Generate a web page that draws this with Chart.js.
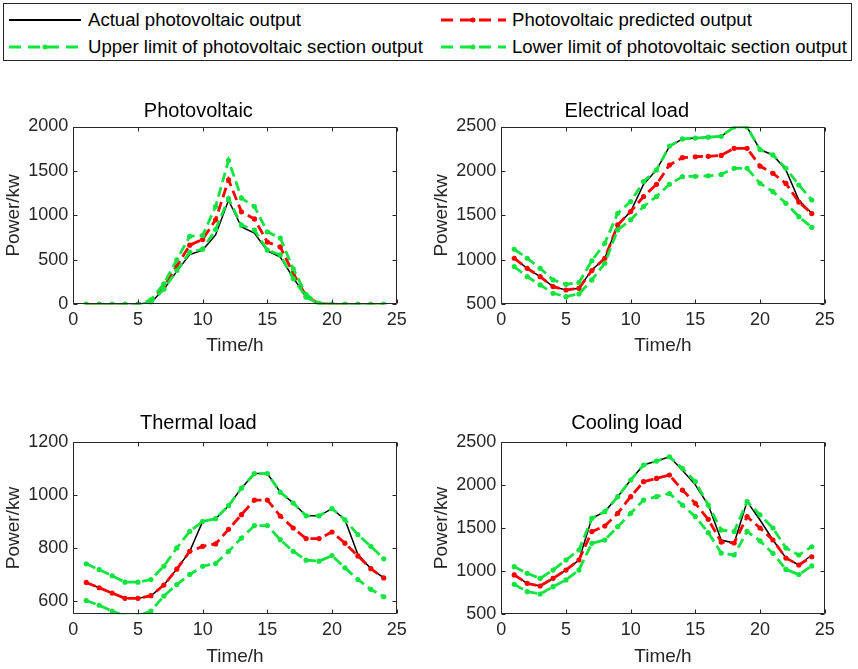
<!DOCTYPE html>
<html>
<head>
<meta charset="utf-8">
<script src="https://cdn.jsdelivr.net/npm/chart.js@4.4.0/dist/chart.umd.min.js"></script>
<style>
  html, body { margin: 0; padding: 0; background: #fff; }
  body { width: 858px; height: 669px; position: relative; overflow: hidden; font-family: "Liberation Sans", Arial, sans-serif; }
  canvas { position: absolute; }
  #legend { position: absolute; left: 3px; top: 3px; width: 849px; height: 58px; border: 1px solid #262626; box-sizing: border-box; }
  #legend svg { position: absolute; left: 0; top: 0; }
  .lg { position: absolute; font-size: 18.6px; color: #000; line-height: 20px; white-space: nowrap; }
</style>
</head>
<body>
<div id="legend">
  <svg width="849" height="58">
    <line x1="5" y1="16" x2="77" y2="16" stroke="#000" stroke-width="2"/>
    <line x1="437" y1="16" x2="502" y2="16" stroke="#ff0000" stroke-width="3" stroke-dasharray="12 7"/>
    <circle cx="469" cy="16" r="2.5" fill="#ff0000"/>
    <line x1="5" y1="43" x2="77" y2="43" stroke="#11e33f" stroke-width="3" stroke-dasharray="12 7"/>
    <circle cx="41" cy="43" r="2.5" fill="#11e33f"/>
    <line x1="437" y1="43" x2="502" y2="43" stroke="#11e33f" stroke-width="3" stroke-dasharray="12 7"/>
    <circle cx="469" cy="43" r="2.5" fill="#11e33f"/>
  </svg>
  <div class="lg" style="left:84px; top:6px;">Actual photovoltaic output</div>
  <div class="lg" style="left:508px; top:6px;">Photovoltaic predicted output</div>
  <div class="lg" style="left:84px; top:33px;">Upper limit of photovoltaic section output</div>
  <div class="lg" style="left:508px; top:33px;">Lower limit of photovoltaic section output</div>
</div>
<canvas id="pv" width="429" height="269" style="left:0px; top:90px;"></canvas>
<canvas id="elec" width="429" height="269" style="left:429px; top:90px;"></canvas>
<canvas id="heat" width="429" height="269" style="left:0px; top:400px;"></canvas>
<canvas id="cool" width="429" height="269" style="left:429px; top:400px;"></canvas>
<script>
// hours of the day
const hours = [1,2,3,4,5,6,7,8,9,10,11,12,13,14,15,16,17,18,19,20,21,22,23,24];
const xTicks = [0,5,10,15,20,25];

// Photovoltaic
const pvActual = [0,0,0,0,0,20,170,370,560,610,780,1170,870,800,600,530,300,80,5,0,0,0,0,0];
const pvPred   = [0,0,0,0,0,30,200,430,665,730,950,1400,1040,960,700,645,350,90,5,0,0,0,0,0];
const pvUpper  = [0,0,0,0,0,50,230,500,765,775,1100,1620,1195,1100,815,745,400,110,10,0,0,0,0,0];
const pvLower  = [0,0,0,0,0,20,170,380,585,620,840,1190,890,835,610,555,290,80,5,0,0,0,0,0];
const pvTicks  = [0,500,1000,1500,2000];

// Electrical load
const elActual = [1018,905,811,699,661,680,887,1018,1393,1543,1851,2012,2275,2360,2370,2380,2390,2492,2492,2240,2180,2011,1673,1524];
const elPred   = [1018,905,811,699,661,680,880,1018,1393,1543,1712,1850,2067,2149,2160,2165,2175,2255,2255,2055,1973,1860,1650,1520];
const elUpper  = [1119,1018,905,774,725,744,990,1187,1524,1656,1881,2012,2280,2360,2370,2380,2390,2495,2495,2240,2180,2030,1842,1673];
const elLower  = [924,811,718,624,586,616,774,962,1337,1450,1600,1712,1850,1936,1940,1945,1960,2030,2030,1861,1767,1636,1486,1366];
const elTicks  = [500,1000,1500,2000,2500];

// Thermal load
const thActual = [670,650,630,610,610,620,660,720,787,900,910,959,1025,1080,1080,1010,969,921,921,948,906,775,722,687];
const thPred   = [670,650,630,610,610,620,660,720,787,806,815,870,925,980,980,920,875,835,835,860,818,770,722,687];
const thUpper  = [740,718,695,671,671,681,731,800,862,900,910,959,1025,1080,1080,1010,969,921,921,948,906,850,806,759];
const thLower  = [602,584,562,544,544,562,619,662,700,731,741,787,837,884,884,831,787,754,750,771,725,681,644,616];
const thTicks  = [600,800,1000,1200];

// Cooling load
const coActual = [956,859,828,917,1013,1129,1612,1689,1863,2056,2230,2276,2325,2170,2000,1766,1361,1326,1806,1593,1361,1152,1071,1187];
const coPred   = [956,859,828,917,1013,1129,1458,1523,1670,1863,2037,2075,2114,1940,1786,1600,1337,1326,1631,1500,1361,1152,1071,1167];
const coUpper  = [1052,975,917,1013,1129,1245,1612,1689,1863,2056,2230,2276,2325,2191,2037,1766,1477,1458,1806,1651,1500,1268,1187,1283];
const coLower  = [847,763,735,820,898,1013,1322,1361,1515,1670,1824,1863,1900,1766,1631,1446,1210,1187,1460,1350,1206,1020,960,1060];
const coTicks  = [500,1000,1500,2000,2500];

const FONT = '"Liberation Sans", Arial, sans-serif';
const AXIS = '#262626';
const RED = '#ff0000';
const GREEN = '#11e33f';

const pts = arr => hours.map((h, i) => ({ x: h, y: arr[i] }));

// box round the axes with inward tick marks, like matlab
const matlabBox = {
    id: 'matlabBox',
    afterDraw(chart) {
        const { ctx, chartArea: a, scales: { x, y } } = chart;
        const l = Math.round(a.left) + 0.5, r = Math.round(a.right) - 0.5;
        const t = Math.round(a.top) + 0.5, b = Math.round(a.bottom) - 0.5;
        ctx.save();
        ctx.strokeStyle = AXIS;
        ctx.lineWidth = 1;
        ctx.beginPath();
        ctx.rect(l, t, r - l, b - t);
        x.ticks.forEach(tk => {
            const px = Math.round(x.getPixelForValue(tk.value)) + 0.5;
            ctx.moveTo(px, b); ctx.lineTo(px, b - 4);
            ctx.moveTo(px, t); ctx.lineTo(px, t + 4);
        });
        y.ticks.forEach(tk => {
            const py = Math.round(y.getPixelForValue(tk.value)) + 0.5;
            ctx.moveTo(l, py); ctx.lineTo(l + 4, py);
            ctx.moveTo(r, py); ctx.lineTo(r - 4, py);
        });
        ctx.stroke();
        ctx.restore();
    }
};

function dashed(data, color, order) {
    return {
        data: pts(data), borderColor: color, backgroundColor: color,
        borderWidth: 2.8, borderDash: [10, 5], pointRadius: 2.6,
        pointBorderWidth: 0, pointBackgroundColor: color, order: order
    };
}

function makeChart(id, g) {
    new Chart(document.getElementById(id), {
        type: 'line',
        data: {
            datasets: [
                { data: pts(g.actual), borderColor: '#000', borderWidth: 1.5, pointRadius: 0, order: 4 },
                dashed(g.pred, RED, 3),
                dashed(g.upper, GREEN, 2),
                dashed(g.lower, GREEN, 1)
            ]
        },
        options: {
            responsive: false,
            animation: false,
            layout: { padding: { left: 0, right: g.padRight, top: 0, bottom: 0 } },
            plugins: {
                legend: { display: false },
                tooltip: { enabled: false },
                title: {
                    display: true, text: g.title, color: '#000',
                    font: { family: FONT, size: 20, weight: 'normal' },
                    padding: { top: g.titleTop, bottom: g.titleBottom }
                }
            },
            scales: {
                x: {
                    type: 'linear', min: 0, max: 25,
                    afterBuildTicks: s => { s.ticks = xTicks.map(v => ({ value: v })); },
                    afterFit: s => { s.height = g.xHeight; },
                    grid: { display: false, drawTicks: false },
                    border: { display: false },
                    ticks: { padding: 4.9, color: AXIS, autoSkip: false, maxRotation: 0,
                        font: { family: FONT, size: 18 }, callback: v => String(v) },
                    title: { display: true, text: 'Time/h', color: AXIS,
                        font: { family: FONT, size: 19 }, padding: { top: 0, bottom: g.xTitlePad } }
                },
                y: {
                    min: g.yMin, max: g.yMax,
                    afterBuildTicks: s => { s.ticks = g.yTicks.map(v => ({ value: v })); },
                    afterFit: s => { s.width = g.yWidth; },
                    grid: { display: false, drawTicks: false },
                    border: { display: false },
                    ticks: { padding: 5, color: AXIS, autoSkip: false,
                        font: { family: FONT, size: 18 }, callback: v => String(v) },
                    title: { display: true, text: 'Power/kw', color: AXIS,
                        font: { family: FONT, size: 19 }, padding: { top: g.yTitlePad, bottom: 0 } }
                }
            }
        },
        plugins: [matlabBox]
    });
}

makeChart('pv', {
    title: 'Photovoltaic', actual: pvActual, pred: pvPred, upper: pvUpper, lower: pvLower,
    yMin: 0, yMax: 2000, yTicks: pvTicks,
    padRight: 32.3, yWidth: 73.3, titleTop: 9.5, titleBottom: 3, xHeight: 54.7, xTitlePad: 1.6, yTitlePad: 1.9
});
makeChart('elec', {
    title: 'Electrical load', actual: elActual, pred: elPred, upper: elUpper, lower: elLower,
    yMin: 500, yMax: 2500, yTicks: elTicks,
    padRight: 33.3, yWidth: 72.3, titleTop: 9.5, titleBottom: 3, xHeight: 54.7, xTitlePad: 1.6, yTitlePad: 0.9
});
makeChart('heat', {
    title: 'Thermal load', actual: thActual, pred: thPred, upper: thUpper, lower: thLower,
    yMin: 550, yMax: 1200, yTicks: thTicks,
    padRight: 32.3, yWidth: 73.3, titleTop: 11, titleBottom: 6.7, xHeight: 54.7, xTitlePad: 0.6, yTitlePad: 1.9
});
makeChart('cool', {
    title: 'Cooling load', actual: coActual, pred: coPred, upper: coUpper, lower: coLower,
    yMin: 500, yMax: 2500, yTicks: coTicks,
    padRight: 33.3, yWidth: 72.3, titleTop: 11, titleBottom: 6.7, xHeight: 54.7, xTitlePad: 0.6, yTitlePad: 0.9
});
</script>
</body>
</html>
